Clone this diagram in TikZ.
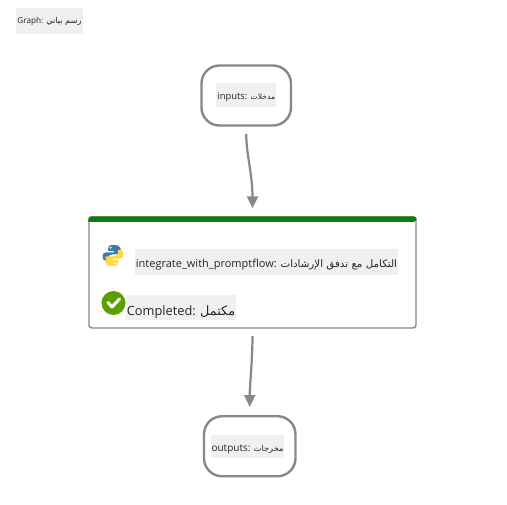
\documentclass[tikz,border=0pt]{standalone}
\usepackage{fontspec}
\setmainfont{Open Sans}
\newfontfamily\arabicfont[Script=Arabic]{DejaVu Sans}
\TeXXeTstate=1
\definecolor{EdgeGray}{HTML}{888888}
\definecolor{LabelGray}{HTML}{F0F0F0}
\definecolor{BarGreen}{HTML}{107C10}
\definecolor{CheckGreen}{HTML}{5C9E00}
\definecolor{PyBlue}{HTML}{3E7BAC}
\definecolor{PyYellow}{HTML}{FFD643}
\usetikzlibrary{arrows.meta, positioning}
\newcommand{\artext}[1]{{\arabicfont\beginR #1\endR}}
\tikzset{
  % Box styles
  ionode/.style={rectangle, rounded corners=18pt, draw=EdgeGray, line width=2.4pt, fill=white, minimum height=60pt},
  stepnode/.style={rectangle, rounded corners=3pt, draw=EdgeGray, line width=1.4pt, fill=white, minimum width=327pt, minimum height=111pt},
  labelnode/.style={rectangle, fill=LabelGray, inner sep=0pt, text=black!85, align=center, text depth=0pt},
  % Arrow styles
  flowarrow/.style={-{Triangle[length=12pt, width=11pt]}, line width=2.2pt, EdgeGray, shorten <=7.5pt, shorten >=8pt}
}
\begin{document}
\begin{tikzpicture}[x=1pt, y=-1pt]
  \useasboundingbox (0,0) rectangle (507,505);

  % Graph title
  \node[labelnode, minimum width=67pt, minimum height=26pt, text height=6pt, font=\fontsize{8.2}{10}\selectfont] (graphlabel) at (49.5,21) {Graph: \artext{رسم بياني}};

  % Inputs
  \node[ionode, minimum width=89.5pt] (inputs) at (246.25,95.5) {};
  \node[labelnode, minimum width=60pt, minimum height=24pt, text height=8pt, font=\fontsize{9.4}{11}\selectfont] (inputslabel) at (inputs.center) {inputs: \artext{\fontsize{7.6}{9}\selectfont مدخلات}};

  % Step
  \node[stepnode] (main) at (252.5,272.5) {};
  \fill[BarGreen] ([yshift=-5.5pt]main.north west) [rounded corners=3pt] -- (main.north west) -- (main.north east) -- ([yshift=-5.5pt]main.north east) [sharp corners] -- cycle;
  \node[labelnode, minimum width=263pt, minimum height=26pt, text height=11pt, font=\fontsize{11}{13}\selectfont] (mainlabel) at (266.5,262) {integrate\_with\_promptflow: \artext{\fontsize{10.3}{13}\selectfont التكامل مع تدفق الإرشادات}};
  \node[labelnode, minimum width=110pt, minimum height=25pt, text height=16pt, font=\fontsize{12.8}{15}\selectfont] (statuslabel) at (181,307.5) {Completed: \artext{مكتمل}};

  % Python icon
  \begin{scope}[shift={(113,255.5)}]
    \fill[PyBlue] (-0.5,-1) -- (7.5,-1) -- (7.5,-7) .. controls (7.5,-9.5) and (5,-10.5) .. (0.5,-10.5) .. controls (-3.5,-10.5) and (-5,-9.5) .. (-5,-7) -- (-5,-4.5) -- (0.5,-4.5) -- (0.5,-3.2) -- (-7,-3.2) .. controls (-9.5,-3.2) and (-10.5,-1) .. (-10.5,0.5) .. controls (-10.5,3) and (-9.5,5.5) .. (-7,5.5) -- (-5,5.5) -- (-5,2.5) .. controls (-5,0.5) and (-3.5,-1) .. (-0.5,-1) -- cycle;
    \fill[PyYellow] (0.5,1) -- (-7.5,1) -- (-7.5,7) .. controls (-7.5,9.5) and (-5,10.5) .. (-0.5,10.5) .. controls (3.5,10.5) and (5,9.5) .. (5,7) -- (5,4.5) -- (-0.5,4.5) -- (-0.5,3.2) -- (7,3.2) .. controls (9.5,3.2) and (10.5,1) .. (10.5,-0.5) .. controls (10.5,-3) and (9.5,-5.5) .. (7,-5.5) -- (5,-5.5) -- (5,-2.5) .. controls (5,-0.5) and (3.5,1) .. (0.5,1) -- cycle;
    \fill[white] (-2.3,-7.8) circle (1.1);
    \fill[white] (2.3,7.8) circle (1.1);
  \end{scope}

  % Status icon
  \node[circle, fill=CheckGreen, minimum size=24pt, inner sep=0pt] (checkicon) at (113.5,303) {};
  \draw[white, line width=3pt, line cap=round, line join=round] ([xshift=-5.5pt,yshift=0.5pt]checkicon.center) -- ([xshift=-1.5pt,yshift=-4pt]checkicon.center) -- ([xshift=6pt,yshift=4pt]checkicon.center);

  % Outputs
  \node[ionode, minimum width=91.5pt] (outputs) at (249.75,446.25) {};
  \node[labelnode, minimum width=73pt, minimum height=23pt, text height=10pt, font=\fontsize{10}{12}\selectfont] (outputslabel) at (247.5,446.5) {outputs: \artext{\fontsize{8.2}{10}\selectfont مخرجات}};

  % Arrows
  \draw[flowarrow] (inputs.south) .. controls +(0,28) and +(0,-42) .. (main.north);
  \draw[flowarrow] (main.south) .. controls +(0,30) and +(0,-30) .. (outputs.north);
\end{tikzpicture}
\end{document}
